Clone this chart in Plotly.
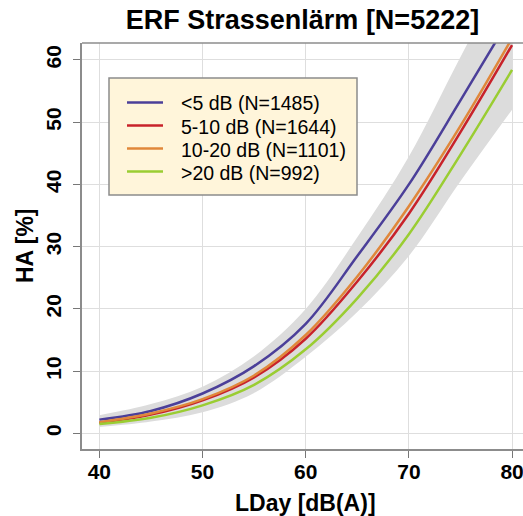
import plotly.graph_objects as go

# ---- data ----
lday = [40, 45, 50, 55, 60, 65, 70, 75, 80]
ha_lt5 = [2.2, 3.6, 6.4, 10.8, 17.6, 28.5, 40.0, 53.5, 67.3]
ha_5_10 = [1.7, 3.0, 5.3, 9.0, 15.2, 24.4, 35.3, 48.4, 62.4]
ha_10_20 = [1.8, 3.2, 5.5, 9.3, 15.8, 25.2, 36.5, 49.4, 63.5]
ha_gt20 = [1.5, 2.5, 4.5, 7.8, 13.5, 21.7, 32.0, 44.8, 58.4]
band_upper = [2.9, 4.7, 7.5, 12.4, 20.0, 31.5, 44.5, 60.5, 76.0]
band_lower = [1.0, 1.9, 3.4, 6.5, 12.3, 19.5, 28.5, 40.5, 52.0]

series_names = ["<5 dB (N=1485)", "5-10 dB (N=1644)", "10-20 dB (N=1101)", ">20 dB (N=992)"]
series_values = [ha_lt5, ha_5_10, ha_10_20, ha_gt20]
series_colors = ["#4B3F99", "#C8222A", "#E0873A", "#9ACD32"]

x_ticks = [40, 50, 60, 70, 80]
y_ticks = [0, 10, 20, 30, 40, 50, 60]

FONT = "Liberation Sans, Arial, sans-serif"
W, H = 523, 516
ML, MR, MT, MB = 82, 0, 43, 67
PW, PH = W - ML - MR, H - MT - MB


def px_x(px):
    return (px - ML) / PW


def px_y(py):
    return (H - MB - py) / PH


fig = go.Figure()

# confidence band
fig.add_trace(go.Scatter(x=lday, y=band_lower, mode="lines", line=dict(width=0, shape="spline"),
                         showlegend=False, hoverinfo="skip"))
fig.add_trace(go.Scatter(x=lday, y=band_upper, mode="lines", line=dict(width=0, shape="spline"),
                         fill="tonexty", fillcolor="#DCDCDC", showlegend=False, hoverinfo="skip"))

for name, vals, col in zip(series_names, series_values, series_colors):
    fig.add_trace(go.Scatter(x=lday, y=vals, mode="lines", name=name,
                             line=dict(color=col, width=2.5, shape="spline"),
                             showlegend=False))

axis_common = dict(ticks="outside", ticklen=7, tickwidth=1.3, tickcolor="#777777",
                   showline=True, linecolor="#8C8C8C", linewidth=1.5,
                   showgrid=True, gridcolor="#DEDEDE", gridwidth=1.3, zeroline=False,
                   automargin=False, ticklabeloverflow="allow",
                   tickfont=dict(size=21, family=FONT, weight="bold"))

fig.update_layout(
    width=W, height=H,
    margin=dict(l=ML, r=MR, t=MT, b=MB),
    paper_bgcolor="white", plot_bgcolor="white",
    font=dict(family=FONT, color="black"),
    title=dict(text="<b>ERF Strassenlärm [N=5222]</b>", x=0.5, xref="paper", xanchor="center",
               y=1 - 20 / H, yanchor="middle", font=dict(size=27, family=FONT)),
    showlegend=False,
    xaxis=dict(range=[38.32, 81.06], tickvals=x_ticks, ticklabelstandoff=-4, **axis_common),
    yaxis=dict(range=[-2.52, 62.73], tickvals=y_ticks, tickangle=-90, ticklabelstandoff=4,
               **axis_common),
)

# top border of the plot box
fig.add_shape(type="line", xref="paper", yref="paper", x0=0, x1=1, y0=1, y1=1,
              line=dict(color="#8C8C8C", width=1.5))

# axis titles
fig.add_annotation(text="<b>LDay [dB(A)]</b>", xref="paper", yref="paper", x=px_x(305), y=px_y(503),
                   xanchor="center", yanchor="middle", showarrow=False, font=dict(size=23, family=FONT))
fig.add_annotation(text="<b>HA [%]</b>", xref="paper", yref="paper", x=px_x(25), y=px_y(246),
                   xanchor="center", yanchor="middle", showarrow=False, textangle=-90,
                   font=dict(size=23, family=FONT))

# legend box (drawn manually to match the reference spacing)
fig.add_shape(type="rect", xref="paper", yref="paper", x0=px_x(109), x1=px_x(357), y0=px_y(195), y1=px_y(78),
              fillcolor="#FFF5DA", line=dict(color="#8C8C8C", width=1.5), layer="above")
row_y = [102.5, 125.5, 148.5, 171.5]
for name, col, ry in zip(series_names, series_colors, row_y):
    fig.add_shape(type="line", xref="paper", yref="paper", x0=px_x(127), x1=px_x(163), y0=px_y(ry), y1=px_y(ry),
                  line=dict(color=col, width=2.5), layer="above")
    fig.add_annotation(text=name, xref="paper", yref="paper", x=px_x(179), y=px_y(ry + 1),
                       xanchor="left", yanchor="middle", showarrow=False,
                       font=dict(size=19.5, family=FONT, color="black"))

fig.write_html("out.html", config={"displayModeBar": False},
               post_script="document.body.style.margin='0';")
